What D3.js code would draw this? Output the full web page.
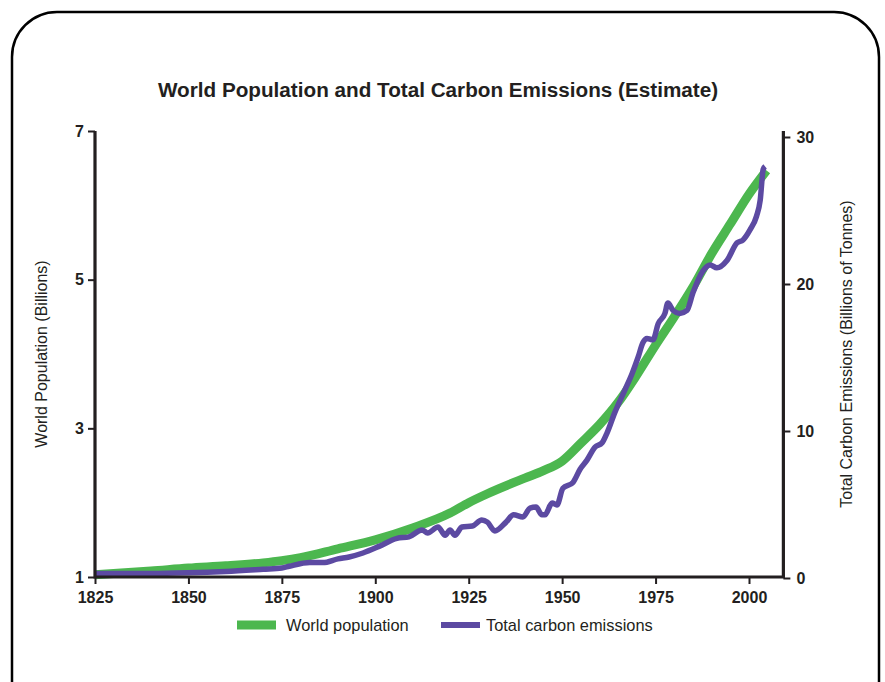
<!DOCTYPE html>
<html>
<head>
<meta charset="utf-8">
<script src="https://cdn.jsdelivr.net/npm/d3@7"></script>
<style>
  body { margin: 0; background: #fff; }
  text { font-family: "Liberation Sans", Arial, Helvetica, sans-serif; fill: #231f20; }
</style>
</head>
<body>
<div id="chart"></div>
<script>
// data
const popYears = [1825, 1840, 1850, 1860, 1870, 1875, 1880, 1890, 1900, 1910, 1920, 1925, 1930, 1940, 1945, 1950, 1955, 1960, 1965, 1970, 1975, 1980, 1985, 1990, 1995, 2000, 2004.7];
const population = [1.03, 1.08, 1.12, 1.15, 1.19, 1.22, 1.26, 1.38, 1.5, 1.66, 1.86, 2.0, 2.12, 2.33, 2.43, 2.56, 2.8, 3.05, 3.35, 3.72, 4.12, 4.5, 4.9, 5.35, 5.75, 6.15, 6.47];

const co2Years = [1825, 1840, 1850, 1860, 1870, 1875, 1877, 1882.5, 1886, 1890, 1893, 1896.7, 1901, 1905.8, 1909, 1912.5, 1914, 1916.8, 1918.7, 1920, 1921.3, 1923.2, 1926, 1928.5, 1930, 1932, 1935, 1937, 1939.5, 1941.4, 1943, 1944.6, 1945.4, 1947.3, 1948.6, 1950.2, 1952.9, 1954.8, 1956.6, 1958.8, 1960.7, 1962, 1964, 1966.8, 1968.7, 1970.3, 1971.6, 1972.7, 1974.3, 1975.7, 1977.5, 1978.3, 1979.7, 1981.5, 1983.4, 1985, 1987.7, 1989.6, 1991.4, 1994.1, 1996.8, 1998.4, 2000.3, 2002, 2003, 2003.8, 2004.3];
const emissions = [0.3, 0.3, 0.35, 0.45, 0.6, 0.68, 0.8, 1.05, 1.05, 1.3, 1.43, 1.7, 2.15, 2.7, 2.8, 3.27, 3.06, 3.47, 2.9, 3.27, 2.9, 3.47, 3.54, 3.95, 3.8, 3.2, 3.8, 4.3, 4.15, 4.76, 4.83, 4.3, 4.3, 5.1, 4.97, 6.1, 6.5, 7.4, 8.0, 8.9, 9.2, 9.86, 11.2, 12.8, 13.9, 15.0, 16.0, 16.3, 16.2, 17.3, 18.0, 18.7, 18.2, 18.0, 18.2, 19.4, 20.9, 21.3, 21.1, 21.6, 22.8, 23.0, 23.7, 24.6, 25.7, 27.8, 28.0];

const yearTicks = [1825, 1850, 1875, 1900, 1925, 1950, 1975, 2000];
const popTicks = [1, 3, 5, 7];
const co2Ticks = [0, 10, 20, 30];

const seriesNames = ["World population", "Total carbon emissions"];
const colors = ["#4cb74f", "#5c4aa2"];
const ink = "#231f20";

const W = 885, H = 682;

const svg = d3.select("#chart")
    .append("svg")
    .attr("width", W)
    .attr("height", H);

// frame with rounded corners
svg.append("rect")
    .attr("x", 12).attr("y", 12)
    .attr("width", 867).attr("height", 720)
    .attr("rx", 45).attr("ry", 45)
    .attr("fill", "none")
    .attr("stroke", "#000")
    .attr("stroke-width", 2.5);

// title
svg.append("text")
    .attr("x", 438)
    .attr("y", 97)
    .attr("text-anchor", "middle")
    .style("font-size", "20.7px")
    .style("font-weight", "bold")
    .text("World Population and Total Carbon Emissions (Estimate)");

// scales
const x = d3.scaleLinear().domain([1825, 2000]).range([95, 749]);
const xRightEdge = 2009.2; // where the right axis stands
const yPop = d3.scaleLinear().domain([1, 7]).range([577, 131]);
const yCo2 = d3.scaleLinear().domain([0, 30]).range([578, 137]);

const popData = popYears.map((yr, i) => ({ yr, v: population[i] }));
const co2Data = co2Years.map((yr, i) => ({ yr, v: emissions[i] }));

// lines
const popLine = d3.line()
    .x(d => x(d.yr))
    .y(d => yPop(d.v))
    .curve(d3.curveMonotoneX);

const co2Line = d3.line()
    .x(d => x(d.yr))
    .y(d => yCo2(d.v))
    .curve(d3.curveMonotoneX);

svg.append("path")
    .datum(popData)
    .attr("d", popLine)
    .attr("fill", "none")
    .attr("stroke", colors[0])
    .attr("stroke-width", 9);

svg.append("path")
    .datum(co2Data)
    .attr("d", co2Line)
    .attr("fill", "none")
    .attr("stroke", colors[1])
    .attr("stroke-width", 5.5)
    .attr("stroke-linejoin", "round");

// axes
function styleAxis(g) {
    g.select(".domain").remove();
    g.selectAll(".tick line").attr("stroke", ink).attr("stroke-width", 2);
    g.selectAll(".tick text")
        .style("font-size", "16px")
        .style("font-weight", "bold")
        .attr("fill", ink);
}

svg.append("g")
    .attr("transform", `translate(0, ${yPop(1)})`)
    .call(d3.axisBottom(x).tickValues(yearTicks).tickFormat(d3.format("d")).tickSize(7).tickPadding(8))
    .call(styleAxis);

svg.append("g")
    .attr("transform", `translate(${x(1825)}, 0)`)
    .call(d3.axisLeft(yPop).tickValues(popTicks).tickFormat(d3.format("d")).tickSize(7).tickPadding(4))
    .call(styleAxis);

svg.append("g")
    .attr("transform", `translate(${x(xRightEdge)}, 0)`)
    .call(d3.axisRight(yCo2).tickValues(co2Ticks).tickFormat(d3.format("d")).tickSize(7).tickPadding(6))
    .call(styleAxis);

// axis lines
svg.append("path")
    .attr("d", `M${x(1825)},${yPop(7)} V${yPop(1)} H${x(xRightEdge)} V${yPop(7)}`)
    .attr("fill", "none")
    .attr("stroke", ink)
    .attr("stroke-width", 3.2);

// axis titles
svg.append("text")
    .attr("transform", `translate(47, ${(yPop(1) + yPop(7)) / 2}) rotate(-90)`)
    .attr("text-anchor", "middle")
    .style("font-size", "16px")
    .text("World Population (Billions)");

svg.append("text")
    .attr("transform", `translate(852, ${(yPop(1) + yPop(7)) / 2}) rotate(-90)`)
    .attr("text-anchor", "middle")
    .style("font-size", "16px")
    .text("Total Carbon Emissions (Billions of Tonnes)");

// legend
const legend = svg.append("g");
const legendX = [237, 441];
const legendTextX = [286, 486];
const legendH = [9, 6];
seriesNames.forEach((name, i) => {
    legend.append("rect")
        .attr("x", legendX[i])
        .attr("y", 625 - legendH[i] / 2)
        .attr("width", 39)
        .attr("height", legendH[i])
        .attr("fill", colors[i]);
    legend.append("text")
        .attr("x", legendTextX[i])
        .attr("y", 631)
        .style("font-size", "16.4px")
        .text(name);
});
</script>
</body>
</html>
